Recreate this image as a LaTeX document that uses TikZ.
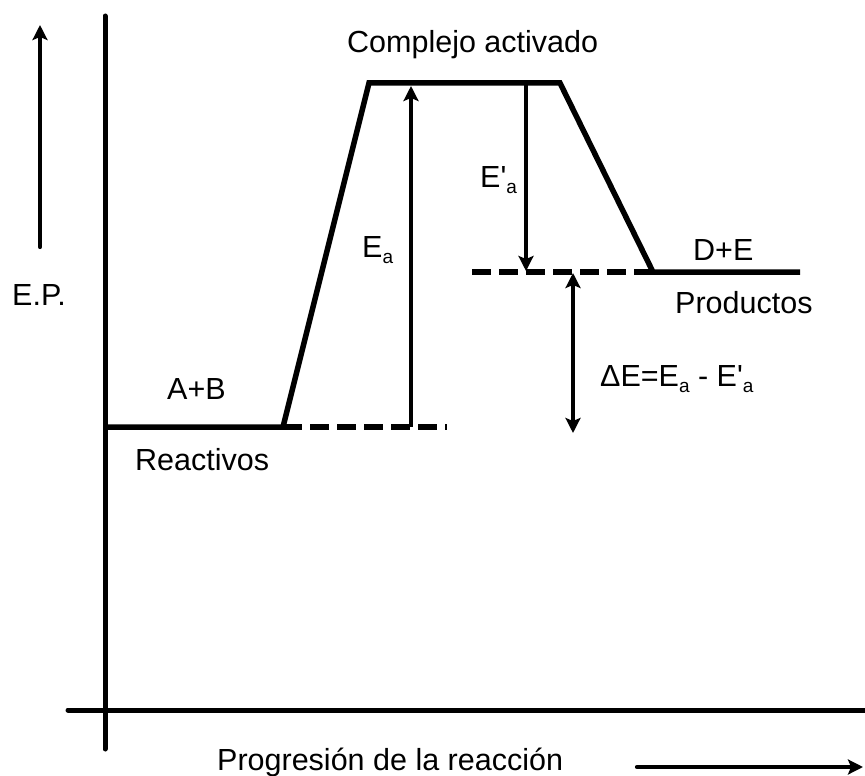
\documentclass[tikz,border=0pt]{standalone}
\usepackage{fontspec}
\setmainfont{Liberation Sans}
\usetikzlibrary{arrows.meta}
\newcommand{\subA}{\raisebox{-6pt}{\fontsize{19}{19}\selectfont a}}
\begin{document}
\begin{tikzpicture}[x=1pt,y=-1pt,
  axis/.style={line width=5pt,line cap=round},
  curve/.style={line width=5.5pt,line join=miter},
  dashline/.style={line width=5.5pt,dash pattern=on 19pt off 8pt},
  tip/.tip={Stealth[length=15pt,width=15pt,inset=3pt]},
  arr/.style={line width=4.2pt,-tip},
  darr/.style={line width=4.2pt,tip-tip},
  lbl/.style={inner sep=0pt,anchor=base west,font=\fontsize{30.5}{36}\selectfont}]
\useasboundingbox (0,0) rectangle (865,776);
% coordinates
\coordinate (ytop) at (105,16);
\coordinate (ybot) at (105,749);
\coordinate (xl) at (68,710);
\coordinate (xr) at (868,710);
\coordinate (epb) at (40,247);
\coordinate (ept) at (40,25);
\coordinate (r0) at (105,427);
\coordinate (r1) at (283,427);
\coordinate (c0) at (369,83);
\coordinate (c1) at (560,83);
\coordinate (p0) at (653,272);
\coordinate (p1) at (800,272);
\coordinate (rd) at (447,427);
\coordinate (pd) at (472,272);
\coordinate (ea0) at (411,427);
\coordinate (ea1) at (411,86);
\coordinate (eb0) at (526,83);
\coordinate (eb1) at (526,271);
\coordinate (de0) at (573,273);
\coordinate (de1) at (573,433);
\coordinate (pr0) at (637,767);
\coordinate (pr1) at (863,767);
% axes
\draw[axis] (ytop) -- (ybot);
\draw[axis] (xl) -- (xr);
\draw[arr,line cap=round] (epb) -- (ept);
\draw[arr,line cap=round] (pr0) -- (pr1);
% energy profile
\draw[curve] (r0) -- (r1) -- (c0) -- (c1) -- (p0) -- (p1);
\draw[dashline] (r1) -- (rd);
\draw[dashline] (pd) -- (p0);
% arrows
\draw[arr] (ea0) -- (ea1);
\draw[arr] (eb0) -- (eb1);
\draw[darr] (de0) -- (de1);
% labels
\node[lbl] (complejo) at (347,53) {Complejo activado};
\node[lbl] (ep) at (12,305) {E.P.};
\node[lbl] (ab) at (167,399) {A+B};
\node[lbl] (reac) at (135,470) {Reactivos};
\node[lbl] (ea) at (362,257) {E\subA};
\node[lbl] (eap) at (480,187) {E\textquotesingle\subA};
\node[lbl] (de) at (693,260) {D+E};
\node[lbl] (prod) at (675,313) {Productos};
\node[lbl] (delta) at (600,386) {ΔE=E\subA{} - E\textquotesingle\subA};
\node[lbl] (prog) at (217,770) {Progresión de la reacción};
\end{tikzpicture}
\end{document}
